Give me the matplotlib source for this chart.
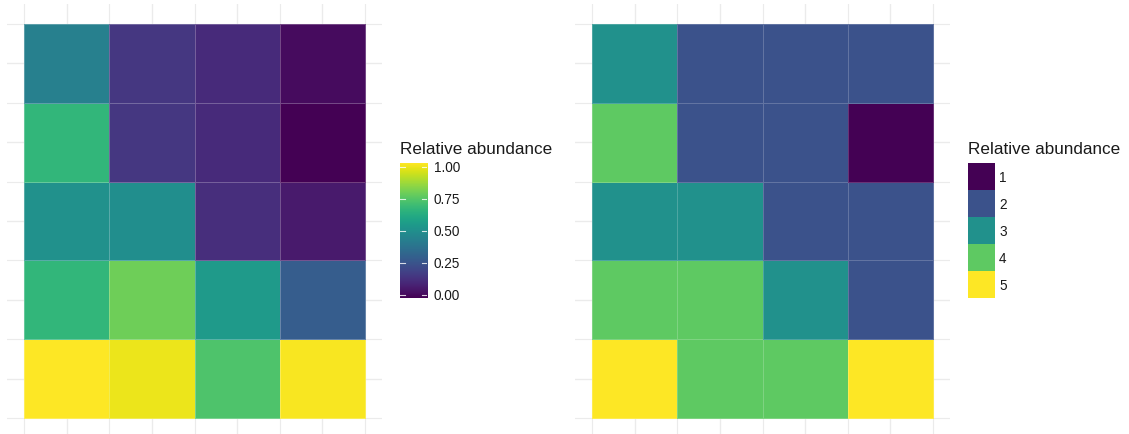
import numpy as np
import matplotlib
matplotlib.use("Agg")
import matplotlib.pyplot as plt
from matplotlib.colors import ListedColormap, BoundaryNorm

plt.rcParams['font.family'] = ['Liberation Sans', 'DejaVu Sans']

# grid positions (columns / rows, row 1 = bottom)
cols = [1, 2, 3, 4]
rows = [1, 2, 3, 4, 5]

# left panel: continuous relative abundance, bottom row first
abund_cont = np.array([
    [1.00, 0.97, 0.72, 0.99],
    [0.66, 0.78, 0.54, 0.29],
    [0.50, 0.49, 0.13, 0.07],
    [0.66, 0.16, 0.12, 0.00],
    [0.43, 0.16, 0.12, 0.03],
])

# right panel: binned classes 1..5, bottom row first
abund_class = np.array([
    [5, 4, 4, 5],
    [4, 4, 3, 2],
    [3, 3, 2, 2],
    [4, 2, 2, 1],
    [3, 2, 2, 2],
])
class_levels = [1, 2, 3, 4, 5]
cont_ticks = [0.00, 0.25, 0.50, 0.75, 1.00]

W, H = 1129, 434
fig = plt.figure(figsize=(W / 100, H / 100), dpi=100)

grid_col = '#EBEBEB'
text_col = '#1A1A1A'


def panel(left_px):
    ax = fig.add_axes([left_px / W, -3.7 / H, 375 / W, 433.4 / H])
    xe = np.arange(len(cols) + 1) + 0.5
    ye = np.arange(len(rows) + 1) + 0.5
    ax.set_xlim(0.3, 4.7)
    ax.set_ylim(0.25, 5.75)
    ax.set_xticks(cols)
    ax.set_xticks(xe, minor=True)
    ax.set_yticks(rows)
    ax.set_yticks(ye, minor=True)
    ax.grid(True, which='major', color=grid_col, lw=1.0)
    ax.grid(True, which='minor', color=grid_col, lw=0.8)
    ax.set_axisbelow(True)
    ax.tick_params(which='both', length=0, labelbottom=False, labelleft=False)
    for s in ax.spines.values():
        s.set_visible(False)
    return ax, xe, ye


# ---- left heatmap
ax1, xe, ye = panel(7)
m1 = ax1.pcolormesh(xe, ye, abund_cont, cmap='viridis', vmin=0, vmax=1,
                    edgecolors=(1, 1, 1, 0.25), linewidth=0.5)

# continuous colour bar
cax1 = fig.add_axes([400 / W, (H - 298) / H, 27 / W, 135 / H])
grad = np.linspace(0, 1, 300)[:, None]
cax1.imshow(grad, origin='lower', aspect='auto', cmap='viridis',
            extent=[0, 1, -0.025, 1.03])
cax1.set_xlim(0, 1)
cax1.set_ylim(-0.025, 1.03)
for t in cont_ticks:
    cax1.plot([0, 0.2], [t, t], color='white', lw=0.8, alpha=0.8)
    cax1.plot([0.8, 1], [t, t], color='white', lw=0.8, alpha=0.8)
cax1.set_xticks([])
cax1.yaxis.tick_right()
cax1.set_yticks(cont_ticks)
cax1.set_yticklabels([f'{t:.2f}' for t in cont_ticks])
cax1.tick_params(axis='y', length=0, pad=5, labelsize=9.8, labelcolor=text_col)
for s in cax1.spines.values():
    s.set_visible(False)
fig.text(400 / W, (H - 150) / H, 'Relative abundance', fontsize=12.3,
         color=text_col, va='center', ha='left')

# ---- right heatmap
ax2, xe, ye = panel(575)
cols5 = [plt.cm.viridis(v) for v in np.linspace(0, 1, len(class_levels))]
cmap5 = ListedColormap(cols5)
norm5 = BoundaryNorm(np.arange(0.5, len(class_levels) + 1), cmap5.N)
m2 = ax2.pcolormesh(xe, ye, abund_class, cmap=cmap5, norm=norm5,
                    edgecolors=(1, 1, 1, 0.2), linewidth=0.5)

# discrete legend
cax2 = fig.add_axes([968 / W, (H - 298) / H, 27 / W, 135 / H])
cb2 = fig.colorbar(m2, cax=cax2, ticks=class_levels)
cb2.outline.set_visible(False)
cb2.ax.minorticks_off()
cax2.invert_yaxis()
cb2.ax.tick_params(which='both', length=0, pad=3, labelsize=9.8,
                   labelcolor=text_col)
fig.text(968 / W, (H - 150) / H, 'Relative abundance', fontsize=12.3,
         color=text_col, va='center', ha='left')

fig.savefig('out.png', dpi=100)
